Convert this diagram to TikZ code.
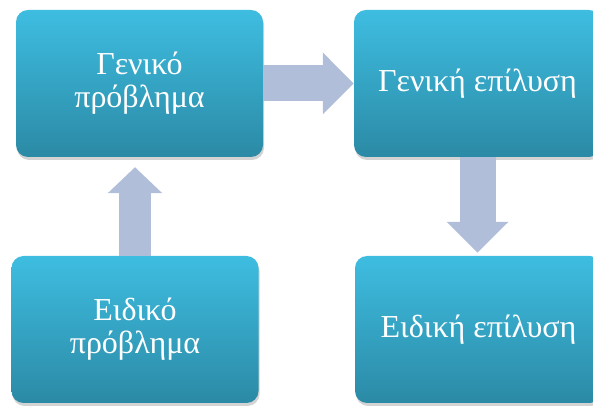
\documentclass[tikz,border=0pt]{standalone}
\usepackage{fontspec}
\setmainfont{Liberation Serif}
\usetikzlibrary{arrows.meta,shadows}
\definecolor{boxtop}{RGB}{62,189,225}
\definecolor{boxbottom}{RGB}{43,138,165}
\definecolor{arrowblue}{RGB}{176,190,218}

\begin{document}
\begin{tikzpicture}[x=1pt, y=1pt,
    stepbox/.style={rounded corners=12pt, top color=boxtop, bottom color=boxbottom,
        minimum width=247pt, minimum height=147pt, align=center, text=white,
        font=\fontsize{32}{33}\selectfont,
        drop shadow={opacity=0.35, shadow xshift=1pt, shadow yshift=-3pt}},
    flow/.style={draw=arrowblue, line width=36pt, -{Triangle[length=31pt, width=60pt]}}]
    \useasboundingbox (0,0) rectangle (593,406);
    \clip (0,0) rectangle (593,406);

    % General problem
    \node[stepbox] (genprob) at (139.5,322.5) {Γενικό\\πρόβλημα};

    % General solution
    \node[stepbox] (gensol) at (477.5,322.5) {Γενική επίλυση};

    % Special problem
    \node[stepbox] (specprob) at (135,76.5) {Ειδικό\\πρόβλημα};

    % Special solution
    \node[stepbox] (specsol) at (478.5,76.5) {Ειδική επίλυση};

    % arrows
    \draw[flow] (genprob.east) -- (gensol.west);
    \draw[flow, shorten >=3pt] (gensol.south) -- (gensol.south |- specsol.north);
    \draw[flow, line width=32pt, -{Triangle[length=26pt, width=53pt]}, shorten >=10pt]
        (specprob.north) -- (specprob.north |- genprob.south);
\end{tikzpicture}
\end{document}
